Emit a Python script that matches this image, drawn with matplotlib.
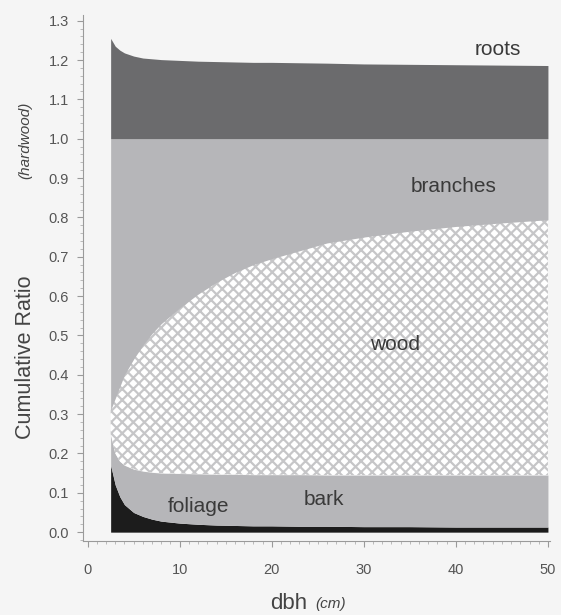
import numpy as np
import matplotlib.pyplot as plt
from matplotlib.ticker import MultipleLocator

plt.rcParams['font.family'] = ['Liberation Sans', 'DejaVu Sans']
plt.rcParams['hatch.linewidth'] = 1.6
plt.rcParams['hatch.color'] = '#c6c6c8'

# cumulative biomass ratios (hardwood) against dbh, top edge of each pool
dbh = [2.5, 3, 3.5, 4, 5, 6, 7, 8, 10, 12, 14, 16, 18, 20, 23, 26, 30, 35, 40, 45, 50]
foliage_top = [0.17, 0.12, 0.09, 0.07, 0.05, 0.04, 0.033, 0.028, 0.023, 0.02, 0.018,
               0.017, 0.016, 0.016, 0.015, 0.015, 0.014, 0.014, 0.013, 0.013, 0.013]
bark_top = [0.25, 0.20, 0.18, 0.17, 0.16, 0.155, 0.152, 0.150, 0.149, 0.148, 0.147,
            0.147, 0.146, 0.146, 0.146, 0.145, 0.145, 0.145, 0.145, 0.145, 0.145]
wood_top = [0.31, 0.34, 0.37, 0.40, 0.44, 0.475, 0.505, 0.53, 0.57, 0.605, 0.635,
            0.66, 0.68, 0.695, 0.715, 0.735, 0.75, 0.765, 0.777, 0.786, 0.794]
branches_top = [1.0] * len(dbh)
roots_top = [1.255, 1.235, 1.225, 1.218, 1.21, 1.205, 1.203, 1.201, 1.199, 1.197, 1.196,
             1.195, 1.194, 1.194, 1.193, 1.192, 1.19, 1.189, 1.188, 1.187, 1.186]

labels = ['foliage', 'bark', 'wood', 'branches', 'roots']
label_x = [12.0, 25.7, 33.4, 39.8, 44.6]
label_y = [0.066, 0.084, 0.476, 0.878, 1.227]

bg = '#f5f5f5'
fig = plt.figure(figsize=(5.61, 6.15), dpi=100, facecolor=bg)
ax = fig.add_axes([0.148, 0.120, 0.832, 0.856], facecolor=bg)

x = np.array(dbh)
zero = np.zeros_like(x)
ax.fill_between(x, zero, foliage_top, color='#1c1c1c', lw=0)
ax.fill_between(x, foliage_top, bark_top, color='#b6b6b9', lw=0)
ax.fill_between(x, bark_top, wood_top, facecolor='white', edgecolor='#c6c6c8',
                hatch='xxx', lw=0)
ax.fill_between(x, wood_top, branches_top, color='#b6b6b9', lw=0)
ax.fill_between(x, branches_top, roots_top, color='#6b6b6d', lw=0)

for txt, lx, ly in zip(labels, label_x, label_y):
    ax.text(lx, ly, txt, ha='center', va='center', fontsize=15, color='#3a3a3a')

ax.set_xlim(-0.5, 50.2)
ax.set_ylim(-0.023, 1.315)
ax.xaxis.set_major_locator(MultipleLocator(10))
ax.xaxis.set_minor_locator(MultipleLocator(1))
ax.yaxis.set_major_locator(MultipleLocator(0.1))
ax.yaxis.set_minor_locator(MultipleLocator(0.02))
ax.yaxis.set_major_formatter(lambda v, p: f'{v:.1f}')

for side in ['top', 'right']:
    ax.spines[side].set_visible(False)
for side in ['left', 'bottom']:
    ax.spines[side].set_color('#9a9a9a')
    ax.spines[side].set_linewidth(0.8)
ax.tick_params(which='major', direction='out', length=4, width=0.8, color='#9a9a9a',
               labelcolor='#555555', labelsize=10.5)
ax.tick_params(which='minor', direction='out', length=2, width=0.6, color='#b0b0b0')
ax.tick_params(axis='x', pad=12)
ax.tick_params(axis='y', pad=6)

# axis titles with italic qualifiers
ax.text(-0.124, 0.35, 'Cumulative Ratio', transform=ax.transAxes, rotation=90,
        ha='center', va='center', fontsize=15.5, color='#444444')
ax.text(-0.124, 0.762, '(hardwood)', transform=ax.transAxes, rotation=90,
        ha='center', va='center', fontsize=11, style='italic', color='#444444')
ax.text(0.44, -0.118, 'dbh', transform=ax.transAxes, ha='center', va='center',
        fontsize=16, color='#444444')
ax.text(0.53, -0.120, '(cm)', transform=ax.transAxes, ha='center', va='center',
        fontsize=11, style='italic', color='#444444')

fig.savefig('out.png', dpi=100, facecolor=bg)
